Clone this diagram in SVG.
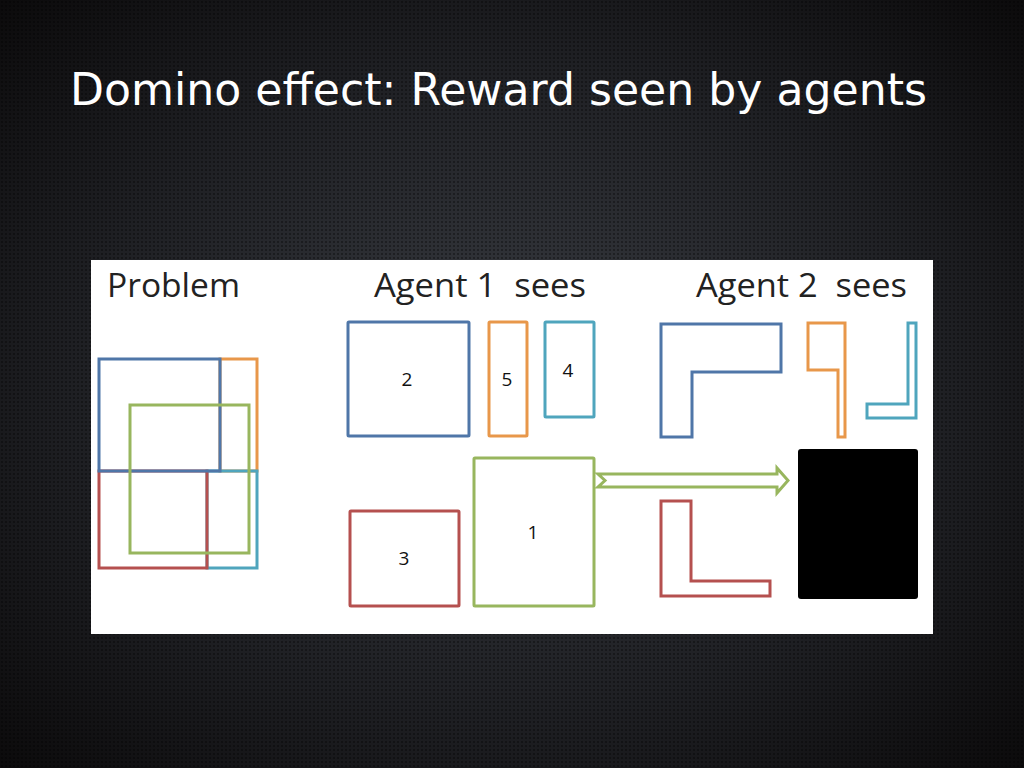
<svg xmlns="http://www.w3.org/2000/svg" width="1024" height="768" viewBox="0 0 1024 768">
<defs>
<radialGradient id="bg" cx="0.5" cy="0.5" r="0.7">
<stop offset="0" stop-color="#393c42"/>
<stop offset="0.6" stop-color="#1f2024"/>
<stop offset="1" stop-color="#0c0b0c"/>
</radialGradient>
<pattern id="dots" width="4" height="4" patternUnits="userSpaceOnUse">
<circle cx="2" cy="2" r="1.1" fill="#000" fill-opacity="0.4"/>
</pattern>
<style>
.s{fill:none;stroke-width:3;stroke-linejoin:miter}
.b{stroke:#4f76a8}.o{stroke:#e8974a}.t{stroke:#4fa5bd}.r{stroke:#b5504f}.g{stroke:#98b65e}
.hd{font-family:"Open Sans","Liberation Sans",sans-serif;font-size:32px;fill:#222}
.n{font-family:"Open Sans","Liberation Sans",sans-serif;font-size:19px;fill:#111}
</style>
</defs>
<rect width="1024" height="768" fill="url(#bg)"/>
<rect width="1024" height="768" fill="url(#dots)"/>
<text x="70" y="105" font-family="'Comic Sans MS','DejaVu Sans',sans-serif" font-size="44" fill="#fff" textLength="857" lengthAdjust="spacingAndGlyphs">Domino effect: Reward seen by agents</text>
<rect x="91" y="260" width="842" height="374" fill="#fff"/>
<g id="headers">
<text class="hd" x="107" y="297" textLength="133" lengthAdjust="spacingAndGlyphs">Problem</text>
<text class="hd" x="374" y="297" xml:space="preserve" textLength="212" lengthAdjust="spacingAndGlyphs">Agent 1  sees</text>
<text class="hd" x="696" y="297" xml:space="preserve" textLength="211" lengthAdjust="spacingAndGlyphs">Agent 2  sees</text>
</g>
<g id="problem">
<rect class="s o" x="220" y="359" width="37" height="112"/>
<rect class="s t" x="207" y="471" width="50" height="97"/>
<rect class="s r" x="99" y="471" width="108" height="97"/>
<rect class="s b" x="99" y="359" width="121" height="112"/>
<rect class="s g" x="130" y="405" width="119" height="148"/>
</g>
<g id="a1-2"><rect class="s b" x="348" y="322" width="121" height="114" rx="1"/><text class="n" x="407" y="386" text-anchor="middle">2</text></g>
<g id="a1-5"><rect class="s o" x="489" y="322" width="38" height="114" rx="1"/><text class="n" x="507" y="386" text-anchor="middle">5</text></g>
<g id="a1-4"><rect class="s t" x="545" y="322" width="49" height="95" rx="1"/><text class="n" x="568" y="377" text-anchor="middle">4</text></g>
<g id="a1-1"><rect class="s g" x="474" y="458" width="120" height="148" rx="1"/><text class="n" x="533" y="539" text-anchor="middle">1</text></g>
<g id="a1-3"><rect class="s r" x="350" y="511" width="109" height="95" rx="1"/><text class="n" x="404" y="565" text-anchor="middle">3</text></g>
<g id="a2-blue"><polygon class="s b" points="661,324 781,324 781,372 692,372 692,437 661,437"/></g>
<g id="a2-orange"><polygon class="s o" points="808,323 845,323 845,437 838,437 838,370 808,370"/></g>
<g id="a2-teal"><polygon class="s t" points="908,323 916,323 916,418 867,418 867,404 908,404"/></g>
<g id="a2-red"><polygon class="s r" points="661,501 691,501 691,581 770,581 770,596 661,596"/></g>
<g id="a2-black"><rect x="798" y="449" width="120" height="150" rx="3" fill="#000"/></g>
<g id="connectors">
<polygon class="s g" fill="#fff" points="598,474 777,474 777,468 788,480.5 777,493 777,487 598,487 605,480.5"/>
</g>
</svg>
